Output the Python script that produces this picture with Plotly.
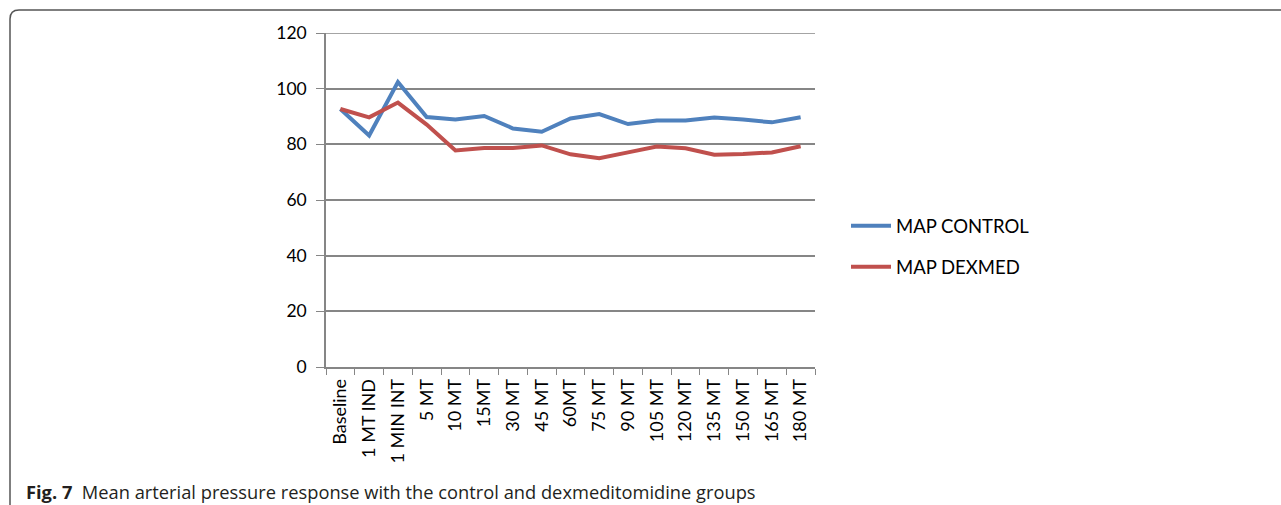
import plotly.graph_objects as go

categories = ["Baseline", "1 MT IND", "1 MIN INT", "5 MT", "10 MT", "15MT", "30 MT",
              "45 MT", "60MT", "75 MT", "90 MT", "105 MT", "120 MT", "135 MT",
              "150 MT", "165 MT", "180 MT"]
map_control = [92.7, 83.2, 102.4, 89.8, 88.9, 90.2, 85.7, 84.5, 89.3, 90.9, 87.3,
               88.6, 88.6, 89.6, 88.9, 87.9, 89.7]
map_dexmed = [92.7, 89.7, 95.0, 87.1, 77.8, 78.7, 78.7, 79.6, 76.4, 75.0, 77.1,
              79.2, 78.6, 76.3, 76.5, 77.1, 79.3]
y_ticks = [0, 20, 40, 60, 80, 100, 120]

W, H = 1281, 505
L, R, T, B = 326, 815, 33, 367.5

font_fam = "Lato, 'Open Sans', sans-serif"
grid_col = "#868686"

fig = go.Figure()
fig.add_trace(go.Scatter(x=categories, y=map_control, mode="lines", name="MAP CONTROL",
                         line=dict(color="#4F81BD", width=4), legendgroup="a"))
fig.add_trace(go.Scatter(x=categories, y=map_dexmed, mode="lines", name="MAP DEXMED",
                         line=dict(color="#C0504D", width=4), legendgroup="b"))

def px_x(p):
    return (p - L) / (R - L)

def px_y(p):
    return (B - p) / (B - T)

# top gridline (plotly omits gridline at range edge)
fig.add_shape(type="line", xref="x domain", yref="y", x0=0, x1=1,
              y0=max(y_ticks), y1=max(y_ticks), line=dict(color=grid_col, width=1.5),
              layer="below")

# frame with rounded top-left corner
r = 9
x0, y0 = 10, 10
path = (f"M {px_x(x0)},{px_y(H + 5)} L {px_x(x0)},{px_y(y0 + r)} "
        f"Q {px_x(x0)},{px_y(y0)} {px_x(x0 + r)},{px_y(y0)} L {px_x(W + 5)},{px_y(y0)}")
fig.add_shape(type="path", path=path, xref="paper", yref="paper",
              line=dict(color="#555555", width=1.5))

fig.add_annotation(x=px_x(24), y=px_y(492), xref="paper", yref="paper",
                   xanchor="left", yanchor="middle", showarrow=False,
                   text="<b>Fig. 7</b>  Mean arterial pressure response with the control and dexmeditomidine groups",
                   font=dict(family="'Open Sans', sans-serif", size=18.3, color="#231f20"))

fig.update_layout(
    width=W, height=H,
    margin=dict(l=L, r=W - R, t=T, b=H - B, pad=0),
    paper_bgcolor="white", plot_bgcolor="white",
    font=dict(family=font_fam, size=17, color="#000000"),
    showlegend=True,
    legend=dict(x=px_x(846), y=px_y(247), xref="paper", yref="paper",
                xanchor="left", yanchor="middle", traceorder="grouped",
                tracegroupgap=14, font=dict(size=18.5), bgcolor="rgba(0,0,0,0)",
                itemwidth=40),
    xaxis=dict(type="category", range=[-0.5, len(categories) - 0.5],
               showline=True, linecolor=grid_col, linewidth=1.5,
               ticks="outside", tickson="boundaries", ticklen=6, tickcolor=grid_col,
               tickangle=-90, showgrid=False, tickfont=dict(size=18),
               ticklabelstandoff=3),
    yaxis=dict(range=[0, 120], tickvals=y_ticks, showline=True, linecolor=grid_col,
               linewidth=1.5, ticks="outside", ticklen=8, tickcolor=grid_col,
               showgrid=True, gridcolor=grid_col, gridwidth=1.5, zeroline=False,
               tickfont=dict(size=17.5), ticklabelstandoff=6),
)

fig.write_html("out.html")
